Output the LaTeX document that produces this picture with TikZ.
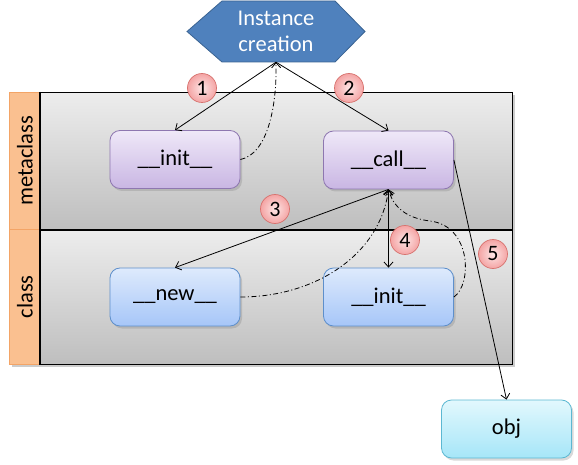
\documentclass[tikz,border=0pt]{standalone}
\usepackage{fontspec}
\setmainfont{Carlito}
\usetikzlibrary{arrows.meta,shadows,calc}
\definecolor{hexfill}{HTML}{4F81BD}
\definecolor{hexline}{HTML}{3A6392}
\definecolor{purtop}{HTML}{EFE8F8}
\definecolor{purbot}{HTML}{C9B6E3}
\definecolor{purline}{HTML}{8E77B0}
\definecolor{blutop}{HTML}{DEEAFC}
\definecolor{blubot}{HTML}{A6C6F8}
\definecolor{bluline}{HTML}{5E8FCB}
\definecolor{cyatop}{HTML}{E2F8FD}
\definecolor{cyabot}{HTML}{A6E6F8}
\definecolor{cyaline}{HTML}{5CB8D2}
\definecolor{lanetop}{HTML}{EDEDED}
\definecolor{lanebot}{HTML}{BEBEBE}
\definecolor{orfill}{HTML}{FAC090}
\definecolor{orline}{HTML}{F3A466}
\definecolor{pinkin}{HTML}{FDE6E6}
\definecolor{pinkout}{HTML}{F4A4A4}
\definecolor{pinkline}{HTML}{D7736F}
\tikzset{
  bigfont/.style={font=\fontsize{22.5}{28}\selectfont},
  lanebox/.style={draw=black, line width=1.3pt, top color=lanetop, bottom color=lanebot,
    minimum width=472pt, minimum height=137pt, anchor=north west, inner sep=0pt},
  orstrip/.style={draw=orline, line width=0.6pt, fill=orfill, minimum width=31pt,
    minimum height=137pt, anchor=north west, inner sep=0pt},
  lanelabel/.style={bigfont, rotate=90, inner sep=0pt},
  fbox/.style={rounded corners=10pt, minimum width=130pt, minimum height=58pt,
    line width=0.8pt, bigfont, inner sep=0pt,
    drop shadow={shadow xshift=2pt, shadow yshift=-2.5pt, opacity=0.3}},
  purbox/.style={fbox, draw=purline, top color=purtop, bottom color=purbot},
  blubox/.style={fbox, draw=bluline, top color=blutop, bottom color=blubot},
  cyabox/.style={fbox, draw=cyaline, top color=cyatop, bottom color=cyabot},
  num/.style={circle, draw=pinkline, line width=0.7pt, inner color=pinkin, outer color=pinkout,
    minimum size=29pt, inner sep=0pt, font=\fontsize{22}{24}\selectfont},
  arr/.style={line width=0.8pt, -{Straight Barb[length=5pt,width=9pt]}},
  darr/.style={line width=0.8pt, {Straight Barb[length=5pt,width=9pt]}-{Straight Barb[length=5pt,width=9pt]}},
  ddarr/.style={arr, dash pattern=on 5pt off 2.5pt on 1pt off 2.5pt},
}
\begin{document}
\begin{tikzpicture}[x=1pt,y=-1pt]
\useasboundingbox (0,0) rectangle (578,465);
% lanes
\fill[black,opacity=0.2] (12,95) rectangle (515,367);
\node[lanebox] (mlane) at (40,92) {};
\node[lanebox, minimum height=135pt] (clane) at (40,229) {};
\node[orstrip] (mstrip) at (9,92) {};
\node[orstrip, minimum height=135pt] (cstrip) at (9,229) {};
\draw[line width=1.3pt] (mlane.north west) -- (clane.south west);
\draw[line width=1.5pt] (mlane.south west) -- (mlane.south east);
\node[lanelabel] (mlab) at (mstrip.center) {metaclass};
\node[lanelabel] (clab) at (cstrip.center) {class};
% hexagon
\fill[hexfill, draw=hexline, line width=0.8pt] (222,1) -- (335,1) -- (365,31.5) -- (335,62) -- (222,62) -- (187,31.5) -- cycle;
\node[bigfont, text=white, align=center, minimum height=62pt, inner sep=0pt] (inst) at (276,31) {Instance\\[-2pt]creation};
% boxes
\node[purbox] (initm) at (175,159.5) {\_\_init\_\_};
\node[purbox] (call) at (388.5,160) {\_\_call\_\_};
\node[blubox] (new) at (175,297) {\_\_new\_\_};
\node[blubox] (initc) at (388.5,297) {\_\_init\_\_};
\node[cyabox] (obj) at (506.5,429) {obj};
% connectors
\draw[arr] (inst.south) -- (initm.north);
\draw[arr] (inst.south) -- (call.north);
\draw[ddarr] (initm.east) .. controls (268,154) and (277,105) .. (inst.south);
\draw[arr] (call.south) -- (new.north);
\draw[darr] (call.south) -- (initc.north);
\draw[ddarr] (new.east) .. controls (315,297) and (380,255) .. (call.south);
\draw[ddarr] (initc.east) .. controls (472,285) and (472,226) .. (430,221) .. controls (405,218) and (393,206) .. (call.south);
\draw[arr] (call.east) -- (obj.north);
% numbers
\node[num] (n1) at (202,88) {1};
\node[num] (n2) at (349,88) {2};
\node[num] (n3) at (275,209) {3};
\node[num] (n4) at (405,240) {4};
\node[num] (n5) at (493,254) {5};
\end{tikzpicture}
\end{document}
